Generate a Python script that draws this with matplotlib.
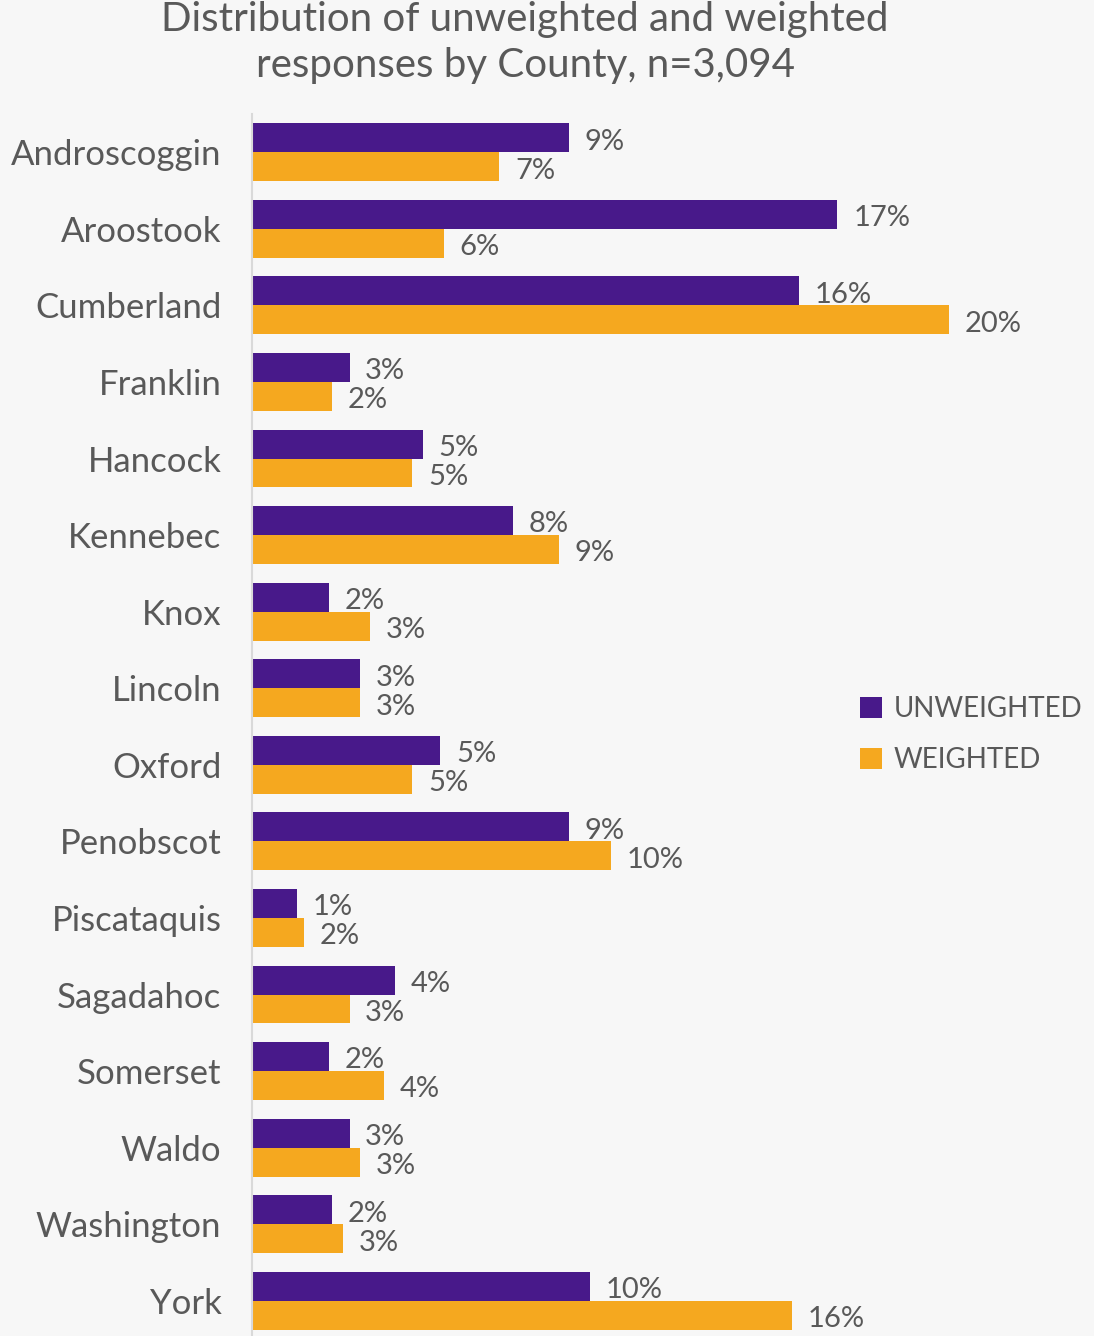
import numpy as np
import matplotlib.pyplot as plt

counties = ['Androscoggin', 'Aroostook', 'Cumberland', 'Franklin', 'Hancock',
            'Kennebec', 'Knox', 'Lincoln', 'Oxford', 'Penobscot', 'Piscataquis',
            'Sagadahoc', 'Somerset', 'Waldo', 'Washington', 'York']
unweighted = [9.1, 16.8, 15.7, 2.8, 4.9, 7.5, 2.2, 3.1, 5.4, 9.1, 1.3, 4.1, 2.2, 2.8, 2.3, 9.7]
weighted = [7.1, 5.5, 20.0, 2.3, 4.6, 8.8, 3.4, 3.1, 4.6, 10.3, 1.5, 2.8, 3.8, 3.1, 2.6, 15.5]

purple = '#48198A'
orange = '#F5A81F'
grey = '#595959'
bg = '#F7F7F7'

plt.rcParams['font.family'] = ['Lato', 'DejaVu Sans']

W, H = 1094, 1336
fig = plt.figure(figsize=(W / 100, H / 100), dpi=100, facecolor=bg)
ax = fig.add_axes([252 / W, 0, (W - 252) / W, 1 - 114 / H], facecolor=bg)

y = np.arange(len(counties))
h = 0.378
ax.barh(y - h / 2, unweighted, height=h, color=purple, label='UNWEIGHTED')
ax.barh(y + h / 2, weighted, height=h, color=orange, label='WEIGHTED')

# etiquetas de porcentaje al final de cada barra
for i in range(len(counties)):
    ax.text(unweighted[i] + 0.45, y[i] - h / 2 + 0.05, f'{round(unweighted[i])}%',
            va='center', ha='left', fontsize=21, color=grey)
    ax.text(weighted[i] + 0.45, y[i] + h / 2 + 0.05, f'{round(weighted[i])}%',
            va='center', ha='left', fontsize=21, color=grey)

ax.set_xlim(0, (W - 252) / 34.85)
ax.set_ylim(15.46, -0.5)
ax.set_yticks(y)
ax.set_yticklabels(counties, fontsize=25, color=grey)
ax.tick_params(axis='y', length=0, pad=22)
ax.set_xticks([])
for s in ['top', 'right', 'bottom']:
    ax.spines[s].set_visible(False)
ax.spines['left'].set_color('#D9D9D9')
ax.spines['left'].set_linewidth(1.5)

leg = ax.legend(loc='center left', bbox_to_anchor=((860 - 252) / (W - 252), 1 - (735 - 114) / (H - 114)),
                frameon=False, fontsize=20, labelcolor=grey, handlelength=0.8,
                handleheight=0.8, handletextpad=0.4, labelspacing=0.9,
                borderpad=0, borderaxespad=0)

fig.text(525 / W, 1 - 43 / H, 'Distribution of unweighted and weighted\nresponses by County, n=3,094',
         ha='center', va='center', fontsize=29, color=grey, linespacing=1.3)

fig.savefig('out.png', dpi=100, facecolor=bg)
